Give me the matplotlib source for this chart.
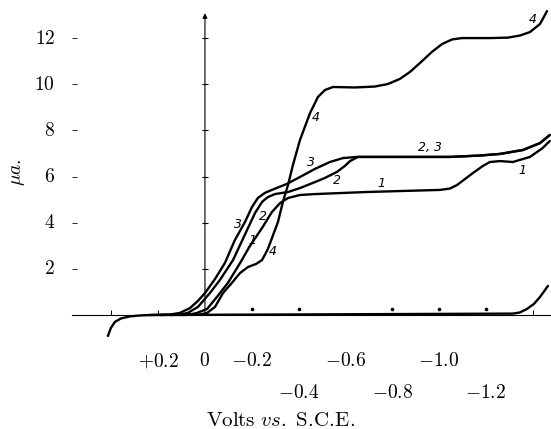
import numpy as np
import matplotlib
matplotlib.use("Agg")
import matplotlib.pyplot as plt

plt.rcParams['mathtext.fontset'] = 'cm'

# polarographic waves: potential (V vs. S.C.E.) and current (microamperes)
e_1 = [0.150, 0.064, 0.034, -0.009, -0.051, -0.098, -0.150, -0.192, -0.244, -0.286,
       -0.321, -0.355, -0.406, -0.470, -0.692, -1.004, -1.047, -1.077, -1.111, -1.145,
       -1.188, -1.218, -1.261, -1.316, -1.389, -1.444, -1.474]
i_1 = [0.00, 0.02, 0.09, 0.26, 0.78, 1.39, 2.25, 2.99, 3.77, 4.46,
       4.85, 5.07, 5.20, 5.24, 5.33, 5.42, 5.48, 5.63, 5.89, 6.15,
       6.46, 6.63, 6.67, 6.63, 6.85, 7.24, 7.54]

e_2 = [0.192, 0.107, 0.073, 0.030, -0.021, -0.064, -0.120, -0.184, -0.214, -0.244,
       -0.269, -0.299, -0.355, -0.406, -0.470, -0.513, -0.564, -0.598, -0.620, -0.654,
       -0.833, -1.047, -1.175, -1.261, -1.359, -1.432, -1.474]
i_2 = [0.00, 0.02, 0.09, 0.35, 0.95, 1.52, 2.38, 3.77, 4.42, 4.90,
       5.11, 5.24, 5.33, 5.50, 5.76, 5.94, 6.20, 6.46, 6.67, 6.85,
       6.85, 6.85, 6.91, 6.98, 7.15, 7.45, 7.80]

e_3 = [0.235, 0.150, 0.107, 0.064, 0.030, 0.000, -0.043, -0.085, -0.128, -0.171,
       -0.201, -0.226, -0.256, -0.286, -0.350, -0.406, -0.470, -0.534, -0.590, -0.650,
       -0.833, -1.047, -1.175, -1.261, -1.359, -1.432, -1.474]
i_3 = [0.00, 0.02, 0.09, 0.30, 0.61, 0.95, 1.56, 2.25, 3.25, 4.03,
       4.68, 5.07, 5.29, 5.42, 5.68, 5.98, 6.33, 6.63, 6.80, 6.85,
       6.85, 6.85, 6.91, 6.98, 7.15, 7.45, 7.80]

e_4 = [0.107, 0.021, -0.009, -0.043, -0.077, -0.115, -0.150, -0.184, -0.218, -0.244,
       -0.269, -0.312, -0.333, -0.355, -0.376, -0.406, -0.449, -0.483, -0.513, -0.547,
       -0.641, -0.726, -0.782, -0.833, -0.876, -0.919, -0.970, -1.013, -1.056, -1.098,
       -1.218, -1.295, -1.346, -1.389, -1.432, -1.453, -1.462]
i_4 = [0.00, 0.02, 0.09, 0.35, 0.95, 1.39, 1.82, 2.08, 2.21, 2.38,
       2.86, 4.03, 4.90, 5.63, 6.50, 7.58, 8.75, 9.45, 9.75, 9.88,
       9.86, 9.90, 10.01, 10.23, 10.53, 10.92, 11.40, 11.74, 11.94, 12.00,
       12.00, 12.02, 12.11, 12.26, 12.61, 13.00, 13.17]

# residual current of the supporting electrolyte
e_res = [0.415, 0.402, 0.385, 0.359, 0.321, 0.278, 0.235, -1.316, -1.346, -1.376,
         -1.406, -1.432, -1.466]
i_res = [-0.91, -0.56, -0.30, -0.15, -0.06, -0.02, 0.00, 0.06, 0.11, 0.26,
         0.48, 0.78, 1.26]

y_ticks = [2, 4, 6, 8, 10, 12]
x_upper = [0.2, 0.0, -0.2, -0.6, -1.0]
x_lower = [-0.4, -0.8, -1.2]
x_marks = [0.4, 0.2, -1.4]
x_dots = [-0.2, -0.4, -0.8, -1.0, -1.2]

# curve labels: text, potential, current
curve_labels = [
    ('4', -1.402, 12.82), ('4', -0.474, 8.54), ('4', -0.291, 2.77),
    ('3', -0.141, 3.94), ('2', -0.248, 4.29), ('1', -0.201, 3.25),
    ('3', -0.453, 6.59), ('2', -0.564, 5.85), ('1', -0.756, 5.68),
    ('2, 3', -0.962, 7.28), ('1', -1.355, 6.24),
]

fig = plt.figure(figsize=(5.51, 4.29), dpi=100)
ax = fig.add_axes([0, 0, 1, 1])
ax.set_xlim(0.876, -1.479)
ax.set_ylim(-4.94, 13.65)
ax.axis('off')

lw = 1.7
for e, i in [(e_1, i_1), (e_2, i_2), (e_3, i_3), (e_4, i_4), (e_res, i_res)]:
    ax.plot(e, i, color='black', lw=lw, solid_capstyle='round', solid_joinstyle='round')

# axes drawn by hand: baseline, current axis with arrow
ax.plot([0.568, -1.479], [0, 0], color='black', lw=0.8)
ax.annotate('', xy=(0, 13.08), xytext=(0, 0),
            arrowprops=dict(arrowstyle='-|>', color='black', lw=0.8,
                            mutation_scale=7, shrinkA=0, shrinkB=0))
ax.hlines(y_ticks, 0.013, -0.013, color='black', lw=0.8)
ax.hlines(y_ticks, 0.568, 0.547, color='black', lw=0.6)
ax.vlines(x_marks, 0, 0.22, color='black', lw=0.7)
ax.plot(x_dots, [0.25] * len(x_dots), 'o', color='black', ms=1.6)

for v in y_ticks:
    ax.text(0.641, v, r'$%d$' % v, ha='right', va='center', fontsize=14)

def volt_label(v):
    if v > 0:
        return r'$+%.1f$' % v
    if v == 0:
        return r'$0$'
    return r'$-%.1f$' % abs(v)

for v in x_upper:
    ax.text(v, -1.99, volt_label(v), ha='center', va='center', fontsize=14)
for v in x_lower:
    ax.text(v, -3.34, volt_label(v), ha='center', va='center', fontsize=14)

ax.text(-0.325, -4.55, r'$\mathrm{Volts}\ \mathit{vs.}\ \mathrm{S.\!C.\!E.}$',
        ha='center', va='center', fontsize=15)
ax.text(0.803, 6.2, r'$\mu a.$', ha='center', va='center', fontsize=14, rotation=90)

for txt, e, i in curve_labels:
    ax.text(e, i, txt, ha='center', va='center', fontsize=9, style='italic',
            family='DejaVu Sans', fontweight='light')

fig.savefig('out.png', dpi=100)
